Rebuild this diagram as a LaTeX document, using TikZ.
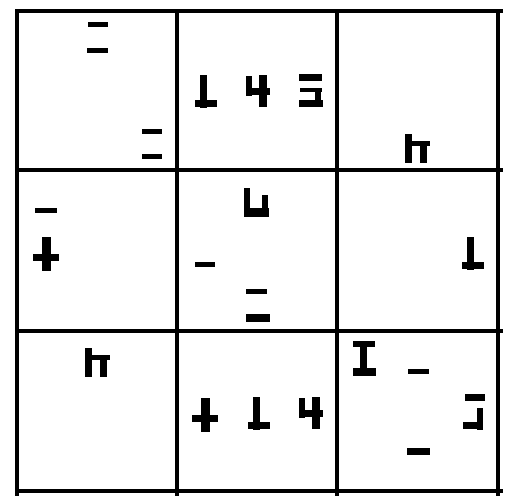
\documentclass[tikz,border=0pt]{standalone}
\tikzset{
    gridline/.style={line width=4pt, line cap=rect},
    tack/.pic={
        \fill (5, 0) rectangle (12, 33);
        \fill (0, 25) rectangle (22, 32);
    },
    cross/.pic={
        \fill (9, 0) rectangle (18, 34);
        \fill (0, 17) rectangle (26, 24);
    },
    chair/.pic={
        \fill (0, 1) rectangle (6, 21);
        \fill (13, 0) rectangle (21, 32);
        \fill (0, 13) rectangle (24, 20);
    },
    gate/.pic={
        \fill (0, 0) rectangle (7, 29);
        \fill (0, 7) rectangle (25, 12);
        \fill (15, 7) rectangle (22, 29);
    },
}

\begin{document}
\begin{tikzpicture}[x=1pt, y=-1pt]
        \useasboundingbox (0, 0) rectangle (507, 500);

        % the grid
        \foreach \gx in {17, 177, 337, 498} {
            \draw[gridline] (\gx, 11) -- (\gx, 494);
        }
        \foreach \gy in {11, 170, 331, 491} {
            \draw[gridline] (17, \gy) -- (501, \gy);
        }

        % glyphs made of several strokes
        \pic at (195, 75) {tack};
        \pic at (462, 237) {tack};
        \pic at (248, 397) {tack};
        \pic at (33, 237) {cross};
        \pic at (192, 398) {cross};
        \pic at (246, 75) {chair};
        \pic at (299, 397) {chair};
        \pic at (405, 134) {gate};
        \pic at (85, 348) {gate};

        \begin{scope}[every path/.style={fill=black}]
            % top middle, right glyph
            \fill (299, 74) rectangle (322, 81);
            \fill (300, 88) rectangle (322, 92);
            \fill (315, 88) rectangle (321, 107);
            \fill (299, 100) rectangle (323, 107);
            % centre, cup
            \fill (244, 188) rectangle (250, 216);
            \fill (262, 195) rectangle (268, 217);
            \fill (244, 208) rectangle (269, 217);
            % bottom right, T on a bar
            \fill (353, 341) rectangle (375, 347);
            \fill (360, 347) rectangle (367, 368);
            \fill (353, 368) rectangle (376, 376);
            % bottom right, bar over a hook
            \fill (465, 394) rectangle (485, 401);
            \fill (477, 408) rectangle (483, 430);
            \fill (463, 422) rectangle (483, 429);
            % single dashes
            \fill (88, 22) rectangle (108, 27);
            \fill (87, 48) rectangle (108, 53);
            \fill (142, 129) rectangle (162, 134);
            \fill (142, 154) rectangle (162, 159);
            \fill (35, 208) rectangle (57, 213);
            \fill (195, 262) rectangle (215, 267);
            \fill (246, 289) rectangle (267, 294);
            \fill (246, 314) rectangle (270, 322);
            \fill (408, 369) rectangle (429, 374);
            \fill (407, 448) rectangle (430, 455);
        \end{scope}
    \end{tikzpicture}
\end{document}
